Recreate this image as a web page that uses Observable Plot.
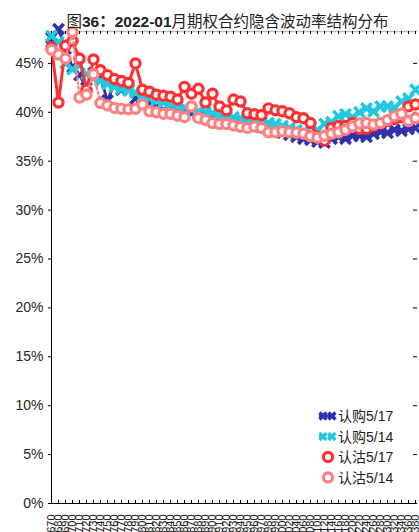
<!DOCTYPE html>
<html><head><meta charset="utf-8">
<script src="https://cdn.jsdelivr.net/npm/d3@7"></script>
<script src="https://cdn.jsdelivr.net/npm/@observablehq/plot@0.6"></script>
<style>
html,body{margin:0;padding:0;background:#fff;overflow:hidden;}
#wrap{position:relative;width:419px;height:532px;font-family:"Liberation Sans",Arial,"Noto Sans CJK SC",sans-serif;}
#title{position:absolute;top:9px;left:0;width:455px;text-align:center;font-size:15.5px;color:#222;white-space:nowrap;font-family:"Liberation Sans",Arial,"Noto Sans CJK SC",sans-serif;z-index:2}
#title b{font-weight:bold}
#chart{position:absolute;left:0;top:0}
#legend{position:absolute;left:310px;top:404px;z-index:2}
</style>
</head><body>
<div id="wrap">
<div id="chart"></div>
<div id="title"></div>
<div id="legend"></div>
</div>
<script>
const titleParts = [["图",false],["36：2022-01",true],["月期权合约隐含波动率结构分布",false]];
const strikes = [670,680,690,700,710,720,730,740,750,760,770,780,790,800,810,820,830,840,850,860,870,880,890,900,910,920,930,940,950,960,970,980,990,
  1000,1020,1040,1060,1080,1100,1120,1140,1160,1180,1200,1220,1240,1260,1280,1300,1320,1340,1360,1380];
const seriesNames = ["认购5/17","认购5/14","认沽5/17","认沽5/14"];
const call517 = [47.6,48.5,46.5,44.6,43.8,42.5,44.0,43.5,41.2,43.0,42.3,42.4,41.4,40.6,41.0,40.5,40.2,40.4,40.0,40.1,39.9,39.8,39.7,39.6,39.4,39.3,39.2,39.0,38.8,38.7,38.5,38.3,38.1,37.9,37.7,37.5,37.3,37.2,37.0,36.9,37.3,37.5,37.3,37.6,37.6,37.5,37.8,38.0,37.9,38.2,38.1,38.3,38.4];
const call514 = [47.8,47.2,45.0,44.4,44.8,43.9,43.5,43.2,42.9,42.6,42.4,42.2,42.0,41.6,41.4,41.2,41.0,40.8,40.7,40.5,40.3,40.1,40.0,39.9,39.7,39.6,39.5,39.4,39.3,39.1,39.0,38.9,38.8,38.6,38.4,38.2,38.0,37.9,38.2,38.8,39.0,39.6,39.8,39.5,40.0,40.4,40.1,40.6,40.6,40.5,41.1,41.4,42.3];
const put517 = [46.6,41.0,46.8,47.3,45.5,42.3,45.4,44.3,43.8,43.4,43.2,43.0,45.0,42.3,42.1,41.8,41.7,41.6,41.3,42.6,41.9,42.4,41.0,41.9,40.6,40.2,41.3,41.1,39.9,39.8,39.7,40.4,40.2,40.1,39.9,39.5,39.4,38.9,37.5,37.1,38.4,38.6,38.6,38.9,38.3,38.3,38.6,38.9,39.1,39.3,39.5,40.6,40.8];
const put514 = [46.4,45.9,45.5,48.2,41.5,41.8,43.9,40.95,40.7,40.45,40.35,40.3,40.35,40.8,40.1,40.0,39.85,39.85,39.65,39.5,40.6,39.4,39.2,38.9,38.8,38.8,38.65,38.5,38.4,38.55,38.4,37.95,37.95,38.05,37.95,37.9,37.8,37.55,37.4,37.6,37.8,37.95,38.2,38.55,38.85,38.9,38.75,38.9,39.2,39.6,39.85,39.1,39.4];
const yTicks = [0,5,10,15,20,25,30,35,40,45];
const yMax = 48.26;
const colors = ["#3131ad","#22c8e0","#ff3030","#ff8080"];

const strikeLabels = strikes.map(String);
const rows = (vals) => vals.map((v,i)=>({strike:strikeLabels[i], v}));
const dBlue = rows(call517), dCyan = rows(call514), dRed = rows(put517), dPink = rows(put514);

const W=419,H=532,mL=48,mR=2,mT=31,mB=29;
const pw=W-mL-mR, ph=H-mT-mB;

const chart = Plot.plot({
  width:W, height:H, marginTop:mT, marginBottom:mB, marginLeft:mL, marginRight:mR,
  style:{fontFamily:"Liberation Sans, Arial, sans-serif", fontSize:"14px", color:"#262626", background:"transparent", overflow:"visible"},
  x:{type:"point", domain:strikeLabels, padding:0, axis:null},
  y:{domain:[0,yMax], axis:null},
  marks:[
    Plot.ruleY([yMax],{stroke:"#bdbdbd",strokeWidth:1.5}),
    Plot.ruleY([0],{stroke:"#000",strokeWidth:1}),
    Plot.ruleX([strikeLabels[0]],{stroke:"#000",strokeWidth:1}),
    Plot.tickY(yTicks,{y:d=>d, insetRight:pw-4, stroke:"#000"}),
    Plot.tickY(yTicks,{y:d=>d, insetLeft:pw-4, stroke:"#000"}),
    Plot.tickX(strikeLabels,{x:d=>d, insetTop:ph-3, stroke:"#000"}),
    Plot.tickX(strikeLabels,{x:d=>d, insetBottom:ph-3, stroke:"#000"}),
    Plot.axisY({ticks:yTicks, tickSize:0, tickPadding:5, tickFormat:d=>d+"%", fontSize:14, label:null}),
    Plot.text(strikeLabels,{x:d=>d, text:d=>d, frameAnchor:"bottom", dy:11, rotate:-90, textAnchor:"end", lineAnchor:"middle", fontSize:11, fill:"#222"}),
    // 认购5/17
    Plot.line(dBlue,{x:"strike",y:"v",stroke:colors[0],strokeWidth:2.8}),
    Plot.dot(dBlue,{x:"strike",y:"v",symbol:"times",r:4.8,stroke:colors[0],strokeWidth:3.6}),
    // 认购5/14
    Plot.line(dCyan,{x:"strike",y:"v",stroke:colors[1],strokeWidth:2.4,strokeDasharray:"1.5,3"}),
    Plot.dot(dCyan,{x:"strike",y:"v",symbol:"times",r:4.8,stroke:colors[1],strokeWidth:3.6}),
    // 认沽5/17
    Plot.line(dRed,{x:"strike",y:"v",stroke:colors[2],strokeWidth:3}),
    Plot.dot(dRed,{x:"strike",y:"v",r:4.6,stroke:colors[2],strokeWidth:3.2,fill:"white"}),
    // 认沽5/14
    Plot.line(dPink,{x:"strike",y:"v",stroke:colors[3],strokeWidth:2.4,strokeDasharray:"1.5,3"}),
    Plot.dot(dPink,{x:"strike",y:"v",r:4.6,stroke:colors[3],strokeWidth:3.2,fill:"white"})
  ]
});
document.getElementById("chart").appendChild(chart);

// title
const t = document.getElementById("title");
titleParts.forEach(([s,b])=>{const el=document.createElement(b?"b":"span"); el.textContent=s; t.appendChild(el);});

// legend
const lg = d3.select("#legend").append("svg").attr("width",109).attr("height",86)
  .style("font-family","Liberation Sans, Arial, 'Noto Sans CJK SC', sans-serif");
seriesNames.forEach((name,i)=>{
  const g = lg.append("g").attr("transform",`translate(0,${12+i*20.5})`);
  const isCall = i<2;
  if(isCall){
    g.append("line").attr("x1",9).attr("x2",25).attr("y1",0).attr("y2",0).attr("stroke",colors[i]).attr("stroke-width",2.8)
      .attr("stroke-dasharray", i===1?"1.5,3":null);
    [13,22].forEach(cx=>{
      g.append("path").attr("d",`M${cx-3.5},-3.5L${cx+3.5},3.5M${cx-3.5},3.5L${cx+3.5},-3.5`).attr("stroke",colors[i]).attr("stroke-width",3.4).attr("fill","none");
    });
  } else {
    g.append("circle").attr("cx",18).attr("cy",0).attr("r",4.6).attr("stroke",colors[i]).attr("stroke-width",3.2).attr("fill","white");
  }
  g.append("text").attr("x",28).attr("y",0).attr("dy","0.36em").attr("font-size",14).attr("fill","#222").text(name);
});
</script>
</body></html>
